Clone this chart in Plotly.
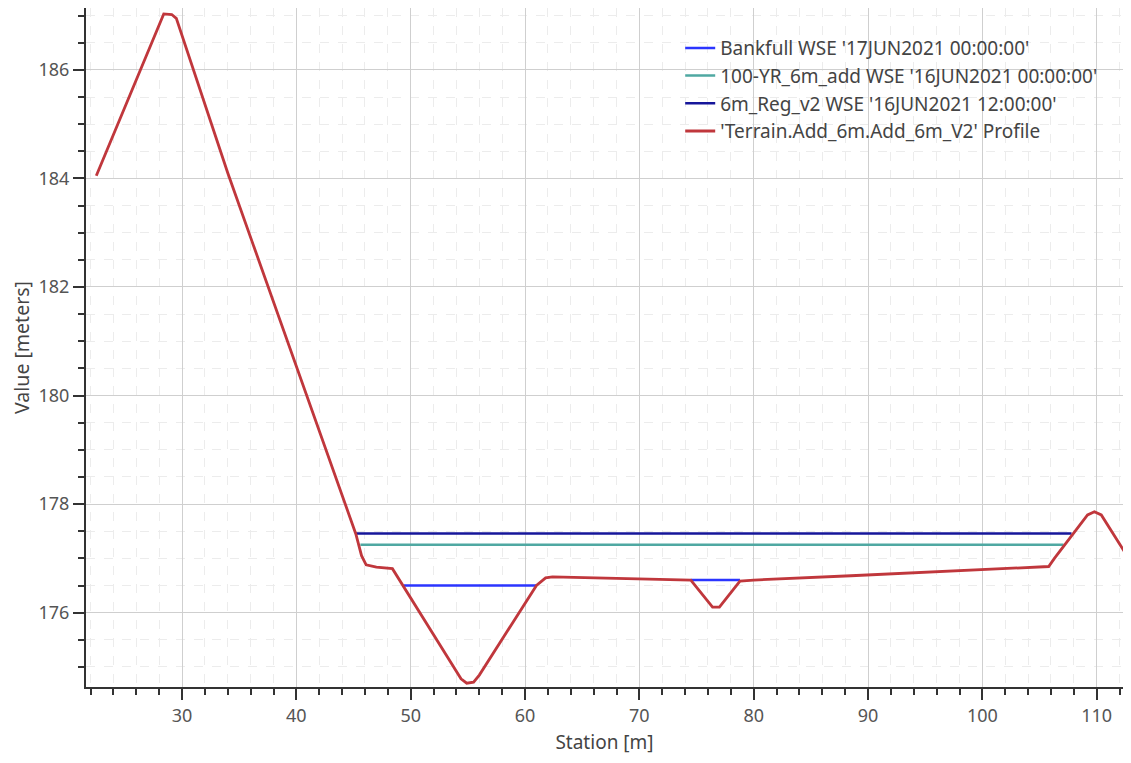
import plotly.graph_objects as go

# terrain profile (station m, elevation m)
terrain_station = [22.5, 28.4, 29.1, 29.5, 34.0, 45.2, 45.7, 46.1, 47.0, 48.4,
                   54.4, 54.9, 55.5, 56.0, 61.0, 61.8, 62.4, 74.5, 76.4, 77.0, 78.8,
                   80.0, 88.5, 105.8, 106.3, 109.2, 109.8, 110.4, 113.0]
terrain_elev = [184.05, 187.03, 187.02, 186.95, 184.1, 177.45, 177.05, 176.88, 176.84, 176.81,
                174.78, 174.7, 174.72, 174.85, 176.5, 176.64, 176.66, 176.6, 176.1, 176.1, 176.58,
                176.6, 176.68, 176.85, 177.0, 177.8, 177.86, 177.8, 176.93]

# water surface lines
bankfull_station = [49.4, 61.0, None, 74.5, 78.8]
bankfull_elev = [176.5, 176.5, None, 176.6, 176.6]

yr100_station = [45.6, 107.1]
yr100_elev = [177.25, 177.25]

reg_station = [45.2, 107.8]
reg_elev = [177.46, 177.46]

names = ["Bankfull WSE '17JUN2021 00:00:00'",
         "100-YR_6m_add WSE '16JUN2021 00:00:00'",
         "6m_Reg_v2 WSE '16JUN2021 12:00:00'",
         "'Terrain.Add_6m.Add_6m_V2' Profile"]
colors = ['#2b35ff', '#4fa8a2', '#16169a', '#c0373c']

fig = go.Figure()
fig.add_trace(go.Scatter(x=bankfull_station, y=bankfull_elev, mode='lines', name=names[0],
                         line=dict(color=colors[0], width=2.5)))
fig.add_trace(go.Scatter(x=yr100_station, y=yr100_elev, mode='lines', name=names[1],
                         line=dict(color=colors[1], width=2.5)))
fig.add_trace(go.Scatter(x=reg_station, y=reg_elev, mode='lines', name=names[2],
                         line=dict(color=colors[2], width=2.5)))
fig.add_trace(go.Scatter(x=terrain_station, y=terrain_elev, mode='lines', name=names[3],
                         line=dict(color=colors[3], width=2.8)))

# the page body keeps its 8px margin, so the figure is sized to fit inside it
fig.update_layout(
    width=1115, height=747,
    margin=dict(l=78, r=0, t=0, b=68),
    paper_bgcolor='white', plot_bgcolor='white',
    font=dict(family='Noto Sans', size=18, color='#444'),
    legend=dict(x=0.573, y=0.969, xanchor='left', yanchor='top',
                bgcolor='rgba(0,0,0,0)', font=dict(size=19, color='#444')),
    showlegend=True,
)

fig.update_xaxes(range=[21.6, 112.3], dtick=10, tick0=0, automargin=False,
                 ticks='outside', ticklen=11, tickwidth=2, tickcolor='#333',
                 showline=True, linecolor='#333', linewidth=2, mirror=True,
                 showgrid=True, gridcolor='#cfcfcf', gridwidth=1, zeroline=False,
                 minor=dict(dtick=2, tick0=0, ticks='outside', ticklen=6, tickwidth=2,
                            tickcolor='#333', showgrid=True, gridcolor='#ececec', griddash='dash'),
                 tickfont=dict(size=18, color='#555'),
                 title=dict(text='Station [m]', font=dict(size=19, color='#444'), standoff=18))

fig.update_yaxes(range=[174.63, 187.14], dtick=2, tick0=0, automargin=False,
                 ticks='outside', ticklen=11, tickwidth=2, tickcolor='#333',
                 showline=True, linecolor='#333', linewidth=2,
                 showgrid=True, gridcolor='#cfcfcf', gridwidth=1, zeroline=False,
                 minor=dict(dtick=0.5, tick0=0, ticks='outside', ticklen=6, tickwidth=2,
                            tickcolor='#333', showgrid=True, gridcolor='#ececec', griddash='dash'),
                 tickfont=dict(size=18, color='#555'),
                 title=dict(text='Value [meters]', font=dict(size=19.5, color='#444'), standoff=4))

fig.write_html("out.html")
